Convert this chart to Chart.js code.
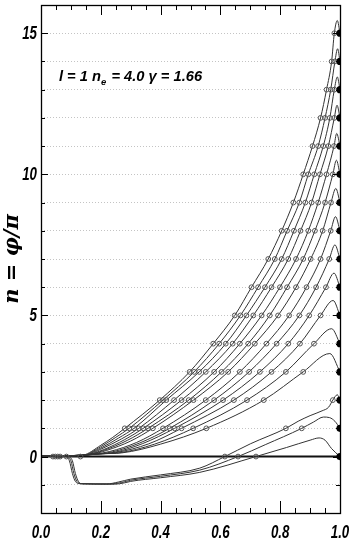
<!DOCTYPE html>
<html><head><meta charset="utf-8">
<script src="https://cdn.jsdelivr.net/npm/chart.js@4.4.0/dist/chart.umd.min.js"></script>
<style>html,body{margin:0;padding:0;background:#fff}#wrap{width:349px;height:540px}</style>
</head><body><div id="wrap"><canvas id="c" width="349" height="540"></canvas></div>
<script>
// ---------- data ----------
const xTickLabels = ['0.0','0.2','0.4','0.6','0.8','1.0'];
const yTickLabels = [0, 5, 10, 15];
const endValues = [0,1,2,3,4,5,6,7,8,9,10,11,12,13,14,15];
const upperEnds = [15,14,13,12,11,10,9,8,7,6,5,4,3];

// common start of the upper curves (near zero)
const earlyX = [0, 0.02, 0.04, 0.06, 0.08, 0.10];
const earlyY = [0, 0.03, 0.01, -0.02, 0.02, 0.03];

// rise of each upper curve before it reaches 1 (curve 15 first)
const upperRise = [
  [[0.14,0.05],[0.20,0.40],[0.24,0.68]],
  [[0.14,0.04],[0.20,0.35],[0.25,0.68]],
  [[0.14,0.04],[0.20,0.30],[0.26,0.66]],
  [[0.15,0.05],[0.20,0.26],[0.27,0.63]],
  [[0.15,0.05],[0.21,0.25],[0.28,0.60]],
  [[0.15,0.05],[0.21,0.22],[0.29,0.58]],
  [[0.16,0.06],[0.22,0.22],[0.30,0.55]],
  [[0.17,0.07],[0.23,0.18],[0.32,0.50]],
  [[0.17,0.07],[0.24,0.17],[0.33,0.48]],
  [[0.18,0.08],[0.25,0.16],[0.34,0.46]],
  [[0.19,0.09],[0.25,0.14],[0.36,0.45]],
  [[0.20,0.10],[0.26,0.13],[0.38,0.44]],
  [[0.20,0.10],[0.27,0.13],[0.40,0.44]]
];

// x where the upper curves cross n = 1 ... 15 (circles), curve 15 first
const ring1  = [0.280,0.295,0.311,0.327,0.342,0.358,0.374,0.408,0.430,0.447,0.470,0.509,0.553];
const ring2  = [0.397,0.408,0.419,0.445,0.470,0.494,0.510,0.551,0.579,0.609,0.645,0.689,0.745];
const ring3  = [0.497,0.512,0.529,0.551,0.579,0.604,0.626,0.665,0.696,0.732,0.771,0.819,0.877];
const ring4  = [0.576,0.596,0.618,0.641,0.665,0.693,0.715,0.754,0.788,0.827,0.866,0.913];
const ring5  = [0.648,0.667,0.687,0.710,0.738,0.765,0.793,0.830,0.864,0.897,0.935];
const ring6  = [0.704,0.726,0.749,0.771,0.799,0.823,0.853,0.888,0.920,0.953];
const ring7  = [0.760,0.782,0.805,0.827,0.853,0.877,0.902,0.935,0.964];
const ring8  = [0.805,0.823,0.846,0.868,0.894,0.916,0.942,0.969];
const ring9  = [0.844,0.864,0.884,0.905,0.927,0.950,0.970];
const ring10 = [0.877,0.894,0.914,0.933,0.955,0.976];
const ring11 = [0.908,0.927,0.944,0.961,0.980];
const ring12 = [0.935,0.950,0.966,0.981];
const ring13 = [0.955,0.969,0.981];
const ring14 = [0.972,0.983];
const ring15 = [0.981];
const rings = [ring1,ring2,ring3,ring4,ring5,ring6,ring7,ring8,ring9,ring10,ring11,ring12,ring13,ring14,ring15];

// overshoot peak of each upper curve near x = 1
const peakX = [0.991,0.992,0.991,0.990,0.989,0.988,0.986,0.985,0.983,0.980,0.977,0.972,0.966];
const peakY = [15.45,14.45,13.45,12.45,11.45,10.5,9.5,8.5,7.5,6.5,5.53,4.53,3.65];

// the three lower curves (end at 2, 1, 0)
const lowerA = [[0,0],[0.04,0.02],[0.08,0],[0.095,-0.15],[0.105,-0.6],[0.115,-0.88],[0.13,-0.96],[0.22,-0.97],[0.26,-0.9],[0.30,-0.8],[0.40,-0.65],[0.531,-0.41],[0.615,0],[0.70,0.45],[0.819,1],[0.86,1.25],[0.90,1.45],[0.94,1.62],[0.962,1.75],[0.976,2],[0.991,2.19],[1,2]];
const lowerB = [[0,0],[0.04,0.02],[0.085,0],[0.10,-0.15],[0.11,-0.6],[0.12,-0.88],[0.135,-0.96],[0.23,-0.97],[0.27,-0.92],[0.30,-0.84],[0.40,-0.70],[0.531,-0.48],[0.659,0],[0.75,0.42],[0.872,1],[0.911,1.22],[0.945,1.40],[0.965,1.38],[0.983,1.25],[1,1]];
const lowerC = [[0,0],[0.04,0.02],[0.09,0],[0.105,-0.15],[0.115,-0.6],[0.125,-0.88],[0.14,-0.97],[0.245,-0.98],[0.28,-0.93],[0.30,-0.88],[0.40,-0.75],[0.531,-0.56],[0.719,0],[0.821,0.32],[0.90,0.58],[0.93,0.66],[0.95,0.58],[0.972,0.28],[1,0]];
const lowerMarks = [[0.615,0],[0.659,0],[0.719,0],[0.819,1],[0.872,1],[0.976,2]];
const zeroMarksX = [0.040,0.048,0.056,0.064,0.085,0.132];
const zeroLineX = [0, 1];

// ---------- build datasets ----------
const LINE = '#333';
const datasets = [];
upperEnds.forEach((e, i) => {
  const pts = earlyX.map((x, k) => ({x, y: earlyY[k]}));
  upperRise[i].forEach(p => pts.push({x: p[0], y: p[1]}));
  for (let k = 1; k <= e; k++) pts.push({x: rings[k-1][i], y: k});
  pts.push({x: peakX[i], y: peakY[i]});
  pts.push({x: 1, y: e});
  datasets.push({data: pts, borderColor: LINE, borderWidth: 1, pointRadius: 0, order: 2});
});
[lowerA, lowerB, lowerC].forEach(c => {
  datasets.push({data: c.map(p => ({x: p[0], y: p[1]})), borderColor: LINE, borderWidth: 1, pointRadius: 0, order: 2});
});
datasets.push({data: zeroLineX.map(x => ({x, y: 0})), borderColor: '#111', borderWidth: 2, pointRadius: 0, order: 3, cubicInterpolationMode: 'default', tension: 0});

const marks = [];
rings.forEach((r, k) => r.forEach(x => marks.push({x, y: k + 1})));
lowerMarks.forEach(p => marks.push({x: p[0], y: p[1]}));
zeroMarksX.forEach(x => marks.push({x, y: 0}));
datasets.push({data: marks, showLine: false, pointRadius: 2.4, pointBorderWidth: 1, pointBorderColor: '#555', pointBackgroundColor: 'rgba(0,0,0,0)', order: 1});
datasets.push({data: endValues.map(v => ({x: 1, y: v})), showLine: false, pointRadius: 3.6, pointBorderWidth: 0, pointBackgroundColor: '#000', order: 0, clip: 0});

// ---------- fonts ----------
const LABEL_FAMILY = "'Liberation Sans','Arimo','DejaVu Sans',sans-serif";
const LABEL_SIZE = 18;
const LABEL_SQUEEZE = 0.74;   // narrow glyphs as in the reference

// ---------- plugins ----------
const framePlugin = {
  id: 'frame',
  afterDraw(chart) {
    const {ctx, chartArea: a, scales: {x, y}} = chart;
    ctx.save();
    ctx.strokeStyle = '#000';
    ctx.lineWidth = 1;
    ctx.beginPath();
    x.ticks.forEach(t => {
      const px = Math.round(x.getPixelForValue(t.value)) + 0.5;
      const major = Math.round(t.value * 20) % 4 === 0;
      ctx.moveTo(px, a.bottom); ctx.lineTo(px, a.bottom - (major ? 12 : 5));
      ctx.moveTo(px, a.top); ctx.lineTo(px, a.top + (major ? 10 : 5));
    });
    y.ticks.forEach(t => {
      const py = Math.round(y.getPixelForValue(t.value)) + 0.5;
      const major = t.value % 5 === 0;
      ctx.moveTo(a.left, py); ctx.lineTo(a.left + (major ? 7 : 4), py);
      ctx.moveTo(a.right, py); ctx.lineTo(a.right - (major ? 7 : 4), py);
    });
    ctx.stroke();
    ctx.lineWidth = 1.3;
    ctx.strokeRect(Math.round(a.left) + 0.5, Math.round(a.top) + 0.5, Math.round(a.right - a.left), Math.round(a.bottom - a.top));

    // tick labels, at the scales' own tick positions
    ctx.fillStyle = '#000';
    ctx.font = 'italic bold ' + LABEL_SIZE + 'px ' + LABEL_FAMILY;
    ctx.textBaseline = 'middle';
    x.ticks.forEach(t => {
      if (Math.round(t.value * 20) % 4 !== 0) return;
      const label = xTickLabels[Math.round(t.value * 5)];
      ctx.save();
      ctx.translate(x.getPixelForValue(t.value), a.bottom + 20);
      ctx.scale(LABEL_SQUEEZE, 1);
      ctx.textAlign = 'center';
      ctx.fillText(label, 0, 0);
      ctx.restore();
    });
    y.ticks.forEach(t => {
      if (!yTickLabels.includes(t.value)) return;
      ctx.save();
      ctx.translate(a.left - 4, y.getPixelForValue(t.value) + 1);
      ctx.scale(LABEL_SQUEEZE, 1);
      ctx.textAlign = 'right';
      ctx.fillText(String(t.value), 0, 0);
      ctx.restore();
    });
    ctx.restore();
  }
};

const notePre = 'l = 1 n';
const noteSub = 'e';
const notePost = ' = 4.0 \u03B3 = 1.66';
const notePlugin = {
  id: 'note',
  afterDatasetsDraw(chart) {
    const {ctx, scales: {x, y}} = chart;
    const px = x.getPixelForValue(0.06), py = y.getPixelForValue(13.3);
    ctx.save();
    ctx.fillStyle = '#000';
    ctx.textBaseline = 'alphabetic';
    ctx.translate(px, py);
    ctx.scale(1.05, 1);
    const main = "italic bold 14px " + LABEL_FAMILY;
    ctx.font = main;
    let cx = 0;
    ctx.fillText(notePre, cx, 0);
    cx += ctx.measureText(notePre).width;
    ctx.font = "italic bold 9px " + LABEL_FAMILY;
    ctx.fillText(noteSub, cx, 4);
    cx += ctx.measureText(noteSub).width + 1;
    ctx.font = main;
    ctx.fillText(notePost, cx, 0);
    ctx.restore();
  }
};

new Chart(document.getElementById('c'), {
  type: 'line',
  data: {datasets},
  options: {
    responsive: false,
    animation: false,
    events: [],
    layout: {padding: {top: 1, right: 9, left: 0, bottom: 0}},
    plugins: {legend: {display: false}, tooltip: {enabled: false}},
    elements: {line: {cubicInterpolationMode: 'monotone'}},
    scales: {
      x: {
        type: 'linear', min: 0, max: 1,
        ticks: {
          display: false, stepSize: 0.05, autoSkip: false, maxRotation: 0,
          callback: v => (Math.round(v * 20) % 4 === 0 ? xTickLabels[Math.round(v * 5)] : '')
        },
        grid: {display: false, drawTicks: false},
        border: {display: false},
        afterFit(s) { s.height = 27; s.paddingLeft = 0; s.paddingRight = 0; }
      },
      y: {
        type: 'linear', min: -2, max: 16,
        ticks: {
          display: false, stepSize: 1, autoSkip: false,
          callback: v => (yTickLabels.includes(v) ? String(v) : '')
        },
        grid: {
          drawTicks: false, lineWidth: 1,
          color: c => (c.tick && (c.tick.value === -2 || c.tick.value === 16 || c.tick.value === 0)) ? 'rgba(0,0,0,0)' : '#c4c4c4'
        },
        border: {display: false, dash: [1, 2]},
        title: {
          display: true, text: 'n = \u03C6/\u03C0', color: '#000',
          font: {family: "'DejaVu Serif','Liberation Serif',serif", size: 21, style: 'italic', weight: 'bold'},
          padding: {top: 0, bottom: 0}
        },
        afterFit(s) { s.width = 41; s.paddingTop = 0; s.paddingBottom = 0; }
      }
    }
  },
  plugins: [framePlugin, notePlugin]
});
</script></body></html>
